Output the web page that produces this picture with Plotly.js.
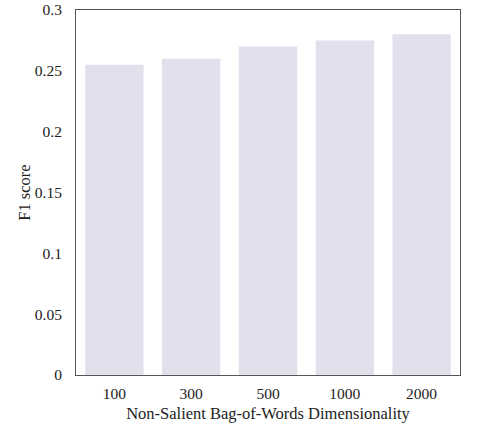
<!DOCTYPE html>
<html><head><meta charset="utf-8">
<script src="https://cdn.plot.ly/plotly-3.0.1.min.js"></script>
<style>html,body{margin:0;padding:0;background:#fff}#chart{width:480px;height:435px}</style>
</head><body><div id="chart"></div>
<script>
const categories = ["100", "300", "500", "1000", "2000"];
const f1Scores = [0.255, 0.26, 0.27, 0.275, 0.28];
const yTickVals = [0, 0.05, 0.1, 0.15, 0.2, 0.25, 0.3];
const yTickText = ["0", "0.05", "0.1", "0.15", "0.2", "0.25", "0.3"];

const tickFont = {family: "Liberation Serif, Times New Roman, serif", size: 15.5, color: "#222"};
const titleFont = {family: "Liberation Serif, Times New Roman, serif", size: 16.5, color: "#222"};
Plotly.newPlot("chart", [{
  type: "bar", x: categories, y: f1Scores,
  marker: {color: "#e4dfec", line: {width: 0}},
  hoverinfo: "skip"
}], {
  width: 480, height: 435,
  margin: {l: 76, r: 20, t: 10, b: 60},
  paper_bgcolor: "#fff", plot_bgcolor: "#fff",
  bargap: 0.24,
  font: tickFont,
  showlegend: false,
  xaxis: {type: "category", showgrid: false, zeroline: false, showline: true, mirror: true,
    linecolor: "#555", linewidth: 1, ticks: "", tickfont: tickFont, ticklabelstandoff: 4,
    title: {text: "Non-Salient Bag-of-Words Dimensionality", font: titleFont, standoff: 6}},
  yaxis: {range: [0, 0.3], tickvals: yTickVals, ticktext: yTickText, showgrid: false, zeroline: false,
    showline: true, mirror: true, linecolor: "#555", linewidth: 1, ticks: "", ticklen: 0,
    tickfont: tickFont, ticklabelstandoff: 10,
    title: {text: "F1 score", font: titleFont, standoff: 0}}
}, {displayModeBar: false, staticPlot: true});
</script></body></html>
